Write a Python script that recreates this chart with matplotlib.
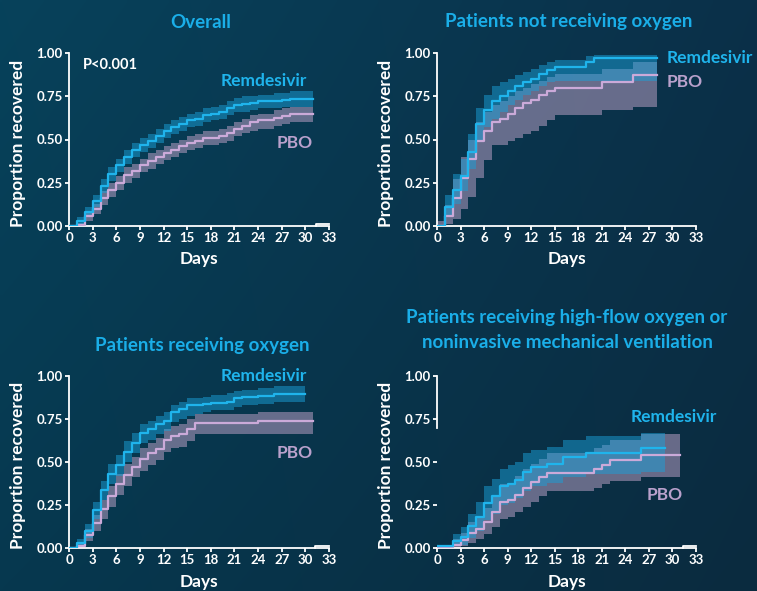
import numpy as np
import matplotlib
matplotlib.use("Agg")
import matplotlib.pyplot as plt

plt.rcParams['font.family'] = ['Lato', 'DejaVu Sans']
plt.rcParams['font.weight'] = 'bold'

# Kaplan-Meier steps: day where each step starts, estimate, lower / upper CI
# Overall
ov_rdv_days = list(range(0, 29))
ov_rdv = [0, .03, .08, .145, .23, .30, .35, .40, .44, .47, .49, .52, .55, .57, .59, .61, .62, .64, .65, .66,
          .68, .70, .705, .71, .72, .72, .725, .73, .735]
ov_rdv_lo = [0, .01, .05, .11, .19, .26, .31, .36, .40, .43, .45, .48, .51, .53, .55, .57, .58, .60, .61, .62,
             .64, .66, .66, .67, .68, .68, .68, .69, .69]
ov_rdv_hi = [0, .05, .11, .18, .27, .34, .39, .44, .48, .51, .53, .56, .59, .61, .63, .65, .66, .68, .69, .70,
             .72, .74, .75, .75, .76, .76, .77, .77, .78]
ov_rdv_end = 31
ov_pbo_days = list(range(0, 29))
ov_pbo = [0, .005, .055, .10, .16, .21, .25, .295, .32, .35, .375, .40, .42, .44, .46, .48, .49, .51, .51, .52,
          .535, .56, .58, .60, .61, .61, .625, .635, .645]
ov_pbo_lo = [0, 0, .03, .07, .12, .17, .21, .25, .28, .31, .33, .36, .38, .40, .42, .44, .45, .47, .47, .48,
             .49, .52, .54, .55, .56, .56, .58, .59, .60]
ov_pbo_hi = [0, .02, .08, .13, .20, .25, .29, .34, .36, .39, .42, .44, .46, .48, .50, .52, .53, .55, .55, .56,
             .58, .60, .62, .64, .65, .65, .67, .68, .69]
ov_pbo_end = 31

# Not receiving oxygen
no_rdv_days = list(range(0, 16)) + [19, 20]
no_rdv = [0, .11, .21, .29, .43, .59, .67, .72, .75, .78, .81, .83, .85, .88, .90, .92, .95, .97]
no_rdv_lo = [0, .05, .13, .20, .33, .49, .57, .62, .66, .70, .73, .76, .78, .81, .83, .84, .84, .84]
no_rdv_hi = [0, .18, .30, .39, .53, .68, .76, .81, .83, .85, .87, .89, .91, .93, .95, .96, .98, .99]
no_rdv_end = 28
no_pbo_days = list(range(0, 16)) + [21, 25]
no_pbo = [0, .06, .16, .28, .39, .49, .55, .60, .62, .65, .68, .71, .73, .76, .78, .80, .83, .87]
no_pbo_lo = [0, .01, .04, .10, .17, .28, .38, .47, .47, .49, .51, .53, .55, .58, .61, .64, .67, .69]
no_pbo_hi = [.03, .12, .27, .40, .50, .60, .66, .70, .72, .75, .78, .80, .82, .84, .86, .88, .91, .95]
no_pbo_end = 28

# Receiving oxygen
ox_rdv_days = list(range(0, 19)) + [20, 21, 22, 24, 26]
ox_rdv = [0, .03, .10, .22, .34, .43, .48, .56, .61, .67, .69, .72, .74, .79, .81, .83, .83, .84, .845,
          .85, .87, .88, .885, .895]
ox_rdv_lo = [0, .01, .06, .17, .28, .37, .42, .50, .55, .61, .63, .66, .68, .73, .75, .77, .78, .79, .80,
             .80, .82, .83, .84, .85]
ox_rdv_hi = [0, .05, .14, .27, .39, .49, .54, .62, .67, .72, .74, .77, .79, .83, .85, .87, .87, .88, .89,
             .90, .91, .92, .93, .94]
ox_rdv_end = 30
ox_pbo_days = list(range(0, 17)) + [24]
ox_pbo = [0, .01, .075, .145, .225, .30, .37, .425, .47, .52, .55, .575, .63, .65, .66, .69, .725, .74]
ox_pbo_lo = [0, 0, .04, .10, .17, .24, .31, .36, .41, .45, .48, .51, .56, .58, .59, .62, .66, .66]
ox_pbo_hi = [0, .03, .11, .19, .28, .36, .43, .49, .53, .58, .61, .64, .69, .71, .72, .75, .78, .79]
ox_pbo_end = 31

# High-flow oxygen / noninvasive ventilation
hf_rdv_days = [0] + list(range(2, 15)) + [16, 19, 26]
hf_rdv = [.01, .04, .065, .13, .18, .26, .30, .36, .37, .395, .44, .47, .47, .49, .53, .555, .58]
hf_rdv_lo = [0, .01, .02, .06, .10, .16, .20, .25, .26, .29, .33, .36, .36, .38, .41, .43, .44]
hf_rdv_hi = [.02, .08, .12, .20, .27, .36, .40, .46, .48, .50, .55, .57, .57, .59, .63, .65, .67]
hf_rdv_end = 29
hf_pbo_days = [0] + list(range(2, 15)) + [20, 21, 22, 26]
hf_pbo = [0, .02, .045, .085, .11, .15, .21, .27, .28, .31, .35, .385, .41, .435, .46, .48, .51, .54]
hf_pbo_lo = [0, 0, .01, .03, .05, .08, .12, .17, .18, .21, .24, .27, .30, .33, .35, .37, .39, .41]
hf_pbo_hi = [0, .05, .09, .15, .18, .23, .30, .37, .38, .42, .46, .49, .52, .55, .58, .60, .63, .66]
hf_pbo_end = 31

x_ticks = list(range(0, 34, 3))
y_ticks = [0, 0.25, 0.5, 0.75, 1.0]

RDV_LINE = '#1fb4ec'
RDV_BAND = '#1aa0d8'
PBO_LINE = '#cbaad9'
PBO_BAND = '#a694b7'
PBO_TEXT = '#b9a1cc'
TITLE = '#1aaee8'

W, H = 757, 591
fig = plt.figure(figsize=(W / 100, H / 100), dpi=100)

# background gradient
bg = fig.add_axes([0, 0, 1, 1], zorder=-10)
corners = np.array([[[7, 66, 91], [11, 48, 73]],
                    [[6, 56, 79], [11, 43, 63]]]) / 255.0
u = np.linspace(0, 1, 200)[None, :, None]
v = np.linspace(0, 1, 160)[:, None, None]
grad = (corners[0, 0] * (1 - u) * (1 - v) + corners[0, 1] * u * (1 - v)
        + corners[1, 0] * (1 - u) * v + corners[1, 1] * u * v)
bg.imshow(grad, aspect='auto', extent=[0, 1, 0, 1], interpolation='bilinear')
bg.axis('off')


def px_axes(x0, y_top, x1, y_bot):
    return fig.add_axes([x0 / W, 1 - y_bot / H, (x1 - x0) / W, (y_bot - y_top) / H])


def km(ax, days, est, lo, hi, end, line, band, alpha):
    x = list(days) + [end]
    ax.fill_between(x, list(lo) + [lo[-1]], list(hi) + [hi[-1]], step='post',
                    color=band, alpha=alpha, lw=0, zorder=2)
    ax.plot(x, list(est) + [est[-1]], drawstyle='steps-post', color=line, lw=1.6, zorder=4)


def style(ax, days_y):
    ax.set_facecolor('none')
    ax.set_xlim(0, 33)
    ax.set_ylim(0, 1)
    ax.set_xticks(x_ticks)
    ax.set_yticks(y_ticks)
    ax.set_yticklabels([f'{t:.2f}' for t in y_ticks])
    for s in ['top', 'right']:
        ax.spines[s].set_visible(False)
    for s in ['left', 'bottom']:
        ax.spines[s].set_color('white')
        ax.spines[s].set_linewidth(1.3)
    ax.tick_params(colors='white', labelsize=9.5, length=3, width=1.3, pad=1.5)
    for lab in ax.get_xticklabels() + ax.get_yticklabels():
        lab.set_fontweight('bold')
    ax.set_xlabel('Days', color='white', fontsize=12.5, fontweight='bold')
    ax.set_ylabel('Proportion recovered', color='white', fontsize=12.5, fontweight='bold')
    ax.xaxis.set_label_coords(0.5, days_y)
    ax.yaxis.set_label_coords(-0.165, 0.48)


def tail(ax, start):
    ax.plot([start, start, 33], [0, 0.012, 0.012], color='white', lw=1.3, clip_on=False, zorder=5)


panels = [
    (px_axes(69, 53, 329, 226), -0.145, ov_rdv_days, ov_rdv, ov_rdv_lo, ov_rdv_hi, ov_rdv_end,
     ov_pbo_days, ov_pbo, ov_pbo_lo, ov_pbo_hi, ov_pbo_end),
    (px_axes(437, 53, 696, 226), -0.145, no_rdv_days, no_rdv, no_rdv_lo, no_rdv_hi, no_rdv_end,
     no_pbo_days, no_pbo, no_pbo_lo, no_pbo_hi, no_pbo_end),
    (px_axes(69, 376, 329, 548), -0.15, ox_rdv_days, ox_rdv, ox_rdv_lo, ox_rdv_hi, ox_rdv_end,
     ox_pbo_days, ox_pbo, ox_pbo_lo, ox_pbo_hi, ox_pbo_end),
    (px_axes(437, 376, 696, 548), -0.15, hf_rdv_days, hf_rdv, hf_rdv_lo, hf_rdv_hi, hf_rdv_end,
     hf_pbo_days, hf_pbo, hf_pbo_lo, hf_pbo_hi, hf_pbo_end),
]

for ax, dy, rd, re, rl, rh, rend, pd_, pe, pl, ph, pend in panels:
    style(ax, dy)
    km(ax, pd_, pe, pl, ph, pend, PBO_LINE, PBO_BAND, 0.6)
    km(ax, rd, re, rl, rh, rend, RDV_LINE, RDV_BAND, 0.5)

ax1, ax2, ax3, ax4 = [p[0] for p in panels]
ax4.spines['left'].set_bounds(0.70, 1.0)
tail(ax1, 31.3)
tail(ax3, 31.2)
tail(ax4, 31.3)

lab = dict(fontsize=12.5, fontweight='bold', va='center', clip_on=False)
ax1.text(1.8, 0.93, 'P<0.001', color='white', fontsize=10.5, fontweight='bold', va='center')
ax1.text(30.2, 0.84, 'Remdesivir', color=RDV_LINE, ha='right', **lab)
ax1.text(31.0, 0.48, 'PBO', color=PBO_TEXT, ha='right', **lab)
ax2.text(29.3, 0.97, 'Remdesivir', color=RDV_LINE, ha='left', **lab)
ax2.text(29.3, 0.83, 'PBO', color=PBO_TEXT, ha='left', **lab)
ax3.text(30.2, 1.0, 'Remdesivir', color=RDV_LINE, ha='right', **lab)
ax3.text(31.0, 0.55, 'PBO', color=PBO_TEXT, ha='right', **lab)
ax4.text(24.7, 0.76, 'Remdesivir', color=RDV_LINE, ha='left', **lab)
ax4.text(26.7, 0.31, 'PBO', color=PBO_TEXT, ha='left', **lab)

tt = dict(color=TITLE, fontsize=13.5, fontweight='bold', ha='center', va='center')
fig.text(201 / W, 1 - 22 / H, 'Overall', **tt)
fig.text(569 / W, 1 - 22 / H, 'Patients not receiving oxygen', **tt)
fig.text(202 / W, 1 - 345 / H, 'Patients receiving oxygen', **tt)
fig.text(567 / W, 1 - 318 / H, 'Patients receiving high-flow oxygen or', **tt)
fig.text(567 / W, 1 - 343 / H, 'noninvasive mechanical ventilation', **tt)

fig.savefig('out.png', dpi=100)
